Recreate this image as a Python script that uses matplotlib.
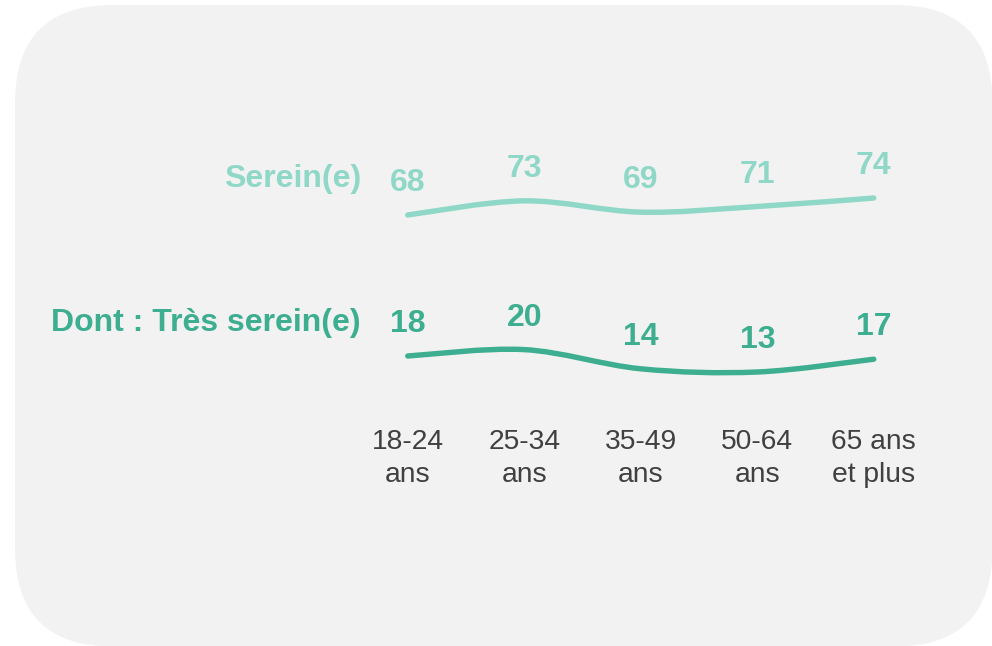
import numpy as np
import matplotlib.pyplot as plt
from matplotlib.patches import FancyBboxPatch, PathPatch
from matplotlib.path import Path

plt.rcParams["font.family"] = ["Liberation Sans", "DejaVu Sans"]

# ── Données ──────────────────────────────────────────────────
categories = ["18-24\nans", "25-34\nans", "35-49\nans", "50-64\nans", "65 ans\net plus"]
serein = [68, 73, 69, 71, 74]
tres_serein = [18, 20, 14, 13, 17]
series_names = ["Serein(e)", "Dont : Très serein(e)"]

COL_LIGHT = "#8FD8C7"
COL_DARK = "#3DAE90"
COL_TEXT = "#404040"
BG = "#F2F2F2"

W, H = 992, 646
fig = plt.figure(figsize=(W / 100, H / 100), dpi=100)
fig.patch.set_facecolor("white")

# fond arrondi
bg = fig.add_axes([0, 0, 1, 1])
bg.set_xlim(0, W)
bg.set_ylim(H, 0)
bg.axis("off")
bg.add_patch(FancyBboxPatch((15, 5), W - 15 + 0.5, H - 5 + 0.5,
                            boxstyle="round,pad=0,rounding_size=98",
                            facecolor=BG, edgecolor="none"))


def px_axes(top, bottom):
    # axes placé en pixels : catégories centrées de 407 à 873
    left, width = 349.5, 582.5
    return fig.add_axes([left / W, 1 - bottom / H, width / W, (bottom - top) / H])


def smooth_path(xs, ys):
    # courbe lissée type Catmull-Rom (Bezier cubique)
    pts = np.column_stack([xs, ys]).astype(float)
    ext = np.vstack([pts[0], pts, pts[-1]])
    verts = [pts[0]]
    codes = [Path.MOVETO]
    for i in range(1, len(ext) - 2):
        p0, p1, p2, p3 = ext[i - 1], ext[i], ext[i + 1], ext[i + 2]
        verts += [p1 + (p2 - p0) / 6, p2 - (p3 - p1) / 6, p2]
        codes += [Path.CURVE4] * 3
    return Path(verts, codes)


x = np.arange(len(categories))
specs = [
    (serein, COL_LIGHT, 150, 250, (55.6, 91.0), series_names[0], 179),
    (tres_serein, COL_DARK, 300, 400, (4.25, 35.5), series_names[1], 323),
]
axes = []
for vals, col, top, bottom, ylim, name, ylab in specs:
    ax = px_axes(top, bottom)
    ax.set_xlim(-0.5, len(categories) - 0.5)
    ax.set_ylim(*ylim)
    ax.patch.set_visible(False)
    for s in ax.spines.values():
        s.set_visible(False)
    ax.set_yticks([])
    ax.set_xticks([])
    ax.add_patch(PathPatch(smooth_path(x, vals), facecolor="none", edgecolor=col,
                           lw=3.9, capstyle="round", joinstyle="round"))
    for xi, v in zip(x, vals):
        ax.annotate(f"{v}", (xi, v), xytext=(0, 23), textcoords="offset points",
                    ha="center", va="center", fontsize=23, fontweight="bold", color=col)
    fig.text(361 / W, 1 - ylab / H, name, ha="right", va="center",
             fontsize=23, fontweight="bold", color=col)
    axes.append(ax)

ax_b = axes[1]
ax_b.set_xticks(x)
ax_b.set_xticklabels(categories, fontsize=20.3, color=COL_TEXT, linespacing=1.32)
ax_b.tick_params(axis="x", length=0, pad=21)

fig.savefig("out.png", dpi=100, facecolor="white")
